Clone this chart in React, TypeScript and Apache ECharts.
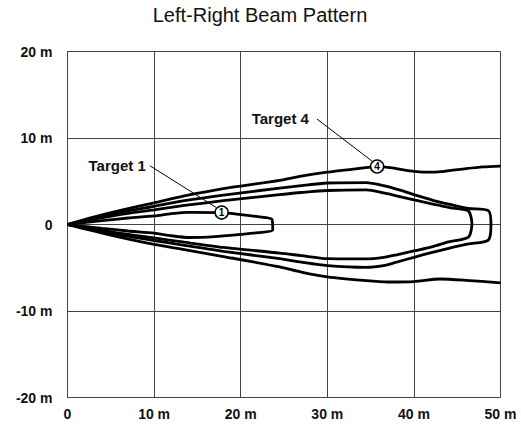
import React, { useEffect, useRef } from "react";
import * as echarts from "echarts";

const titleText = "Left-Right Beam Pattern";
const xTicks = [0, 10, 20, 30, 40, 50];
const yTicks = [-20, -10, 0, 10, 20];

// Outer beam edge (Target 4), upper and lower
const target4Upper: [number, number][] = [
  [0, 0], [3, 0.85], [6, 1.6], [10, 2.5], [13.5, 3.3], [18, 4.15], [24.5, 5.1],
  [27, 5.6], [30, 6.05], [33, 6.4], [35.75, 6.7], [37.5, 6.55], [39.5, 6.2],
  [41.5, 6.05], [43.5, 6.15], [46, 6.45], [48, 6.65], [50, 6.75],
];
const target4Lower: [number, number][] = [
  [0, 0], [3, -0.75], [6, -1.45], [10, -2.3], [13.5, -2.9], [18, -3.7], [24.5, -4.9],
  [27, -5.5], [30, -6.05], [34.5, -6.5], [37, -6.65], [40, -6.6], [43, -6.3],
  [46, -6.45], [50, -6.75],
];

// Middle lobes
const target3Lobe: [number, number][] = [
  [0, 0], [3, 0.75], [6, 1.4], [10, 2.1], [13.5, 2.75], [18, 3.4], [24.5, 4.2],
  [27, 4.5], [30, 4.8], [34.5, 4.85], [36.5, 4.5], [38.5, 3.95], [40, 3.45],
  [42.2, 2.8], [44.5, 2.25], [46.3, 1.85], [48.6, 1.6], [48.9, 0], [48.6, -1.8],
  [46.3, -2.25], [44, -2.75], [42, -3.25], [40, -3.8], [38, -4.35], [36.5, -4.75],
  [34.5, -4.95], [30, -4.75], [27, -4.35], [24.5, -3.95], [18, -3.1], [13.5, -2.4],
  [10, -1.85], [6, -1.2], [3, -0.6], [0, 0],
];
const target2Lobe: [number, number][] = [
  [0, 0], [3, 0.6], [6, 1.15], [10, 1.7], [13.5, 2.2], [18, 2.75], [24.5, 3.45],
  [27, 3.7], [30, 3.93], [34.5, 4.0], [36.5, 3.65], [38.5, 3.2], [40, 2.85],
  [42.2, 2.35], [44.5, 1.9], [46.3, 1.55], [46.7, 0.1], [46.3, -1.45], [44, -2.0],
  [42.2, -2.55], [40, -3.05], [38, -3.5], [36.5, -3.8], [34.5, -3.98], [30, -3.95],
  [27, -3.6], [24.5, -3.3], [18, -2.65], [13.5, -2.05], [10, -1.55], [6, -1.0],
  [3, -0.5], [0, 0],
];
const target1Lobe: [number, number][] = [
  [0, 0], [4, 0.45], [7, 0.75], [10, 1.0], [12, 1.25], [14, 1.4], [17.8, 1.38],
  [20, 1.15], [22, 0.9], [23.6, 0.6], [23.7, -0.65], [22, -0.95], [20, -1.15],
  [17, -1.4], [14, -1.5], [12, -1.3], [10, -1.0], [7, -0.75], [4, -0.45], [0, 0],
];

// Callouts
const markerLabels = ["1", "4"];
const markerX = [17.8, 35.75];
const markerY = [1.38, 6.7];
const calloutLabels = ["Target 1", "Target 4"];
const leaderStart: [number, number][] = [[9.5, 6.8], [28.8, 12.2]];
const leaderEnd: [number, number][] = [[17.2, 1.95], [35.2, 7.3]];
const calloutGap = [4, 8];

const FONT = "'Liberation Sans', Arial, Helvetica, sans-serif";

export default function App() {
  const ref = useRef<HTMLDivElement>(null);
  useEffect(() => {
    if (!ref.current) return;
    const chart = echarts.init(ref.current, null, { renderer: "svg" });
    const beamLine = (name: string, data: [number, number][]) => ({
      type: "line",
      name,
      data,
      smooth: 0.25,
      showSymbol: false,
      symbol: "none",
      lineStyle: { color: "#000", width: 2.8 },
      z: 3,
    });
    const leaderSeries = leaderStart.map((s, i) => ({
      type: "line",
      name: "leader" + i,
      data: [s, leaderEnd[i]],
      showSymbol: false,
      symbol: "none",
      lineStyle: { color: "#000", width: 1 },
      z: 4,
    }));
    chart.setOption({
      animation: false,
      title: {
        text: titleText,
        left: 255,
        textAlign: "center",
        top: 0,
        textStyle: { fontFamily: FONT, fontSize: 20, fontWeight: "normal", color: "#111" },
      },
      grid: { left: 67.5, right: 20.5, top: 51.5, bottom: 29.5 },
      xAxis: {
        type: "value",
        min: xTicks[0],
        max: xTicks[xTicks.length - 1],
        interval: 10,
        axisLine: { show: true, lineStyle: { color: "#444", width: 1 } },
        axisTick: { show: false },
        splitLine: { show: true, lineStyle: { color: "#444", width: 1 } },
        axisLabel: {
          margin: 9,
          fontFamily: FONT,
          fontSize: 14,
          fontWeight: "bold",
          color: "#111",
          formatter: (v: number) => (v === 0 ? "0" : v + " m"),
        },
      },
      yAxis: {
        type: "value",
        min: yTicks[0],
        max: yTicks[yTicks.length - 1],
        interval: 10,
        axisLine: { show: true, onZero: false, lineStyle: { color: "#444", width: 1 } },
        axisTick: { show: false },
        splitLine: { show: true, lineStyle: { color: "#444", width: 1 } },
        axisLabel: {
          margin: 15,
          fontFamily: FONT,
          fontSize: 14,
          fontWeight: "bold",
          color: "#111",
          formatter: (v: number) => (v === 0 ? "0" : v + " m"),
        },
      },
      series: [
        beamLine("Target 4 upper", target4Upper),
        beamLine("Target 4 lower", target4Lower),
        beamLine("Target 3", target3Lobe),
        beamLine("Target 2", target2Lobe),
        beamLine("Target 1", target1Lobe),
        ...leaderSeries,
        {
          type: "scatter",
          name: "callouts",
          data: leaderStart.map((s, i) => ({
            value: s,
            name: calloutLabels[i],
            label: { distance: calloutGap[i] },
          })),
          symbolSize: 0,
          itemStyle: { opacity: 1 },
          label: {
            show: true,
            position: "left",
            formatter: (p: any) => p.name,
            fontFamily: FONT,
            fontSize: 15,
            fontWeight: "bold",
            color: "#111",
          },
          z: 5,
        },
        {
          type: "scatter",
          name: "markers",
          data: markerX.map((x, i) => ({ value: [x, markerY[i]], name: markerLabels[i] })),
          symbol: "circle",
          symbolSize: 13,
          itemStyle: { color: "#fff", borderColor: "#000", borderWidth: 1.5, opacity: 1 },
          label: {
            show: true,
            position: "inside",
            formatter: (p: any) => p.name,
            fontFamily: FONT,
            fontSize: 10,
            fontWeight: "bold",
            color: "#000",
          },
          z: 6,
        },
      ],
    });
    return () => chart.dispose();
  }, []);
  return (
    <div
      ref={ref}
      style={{ position: "fixed", left: 0, top: 0, width: 521, height: 427, background: "#fff" }}
    />
  );
}
